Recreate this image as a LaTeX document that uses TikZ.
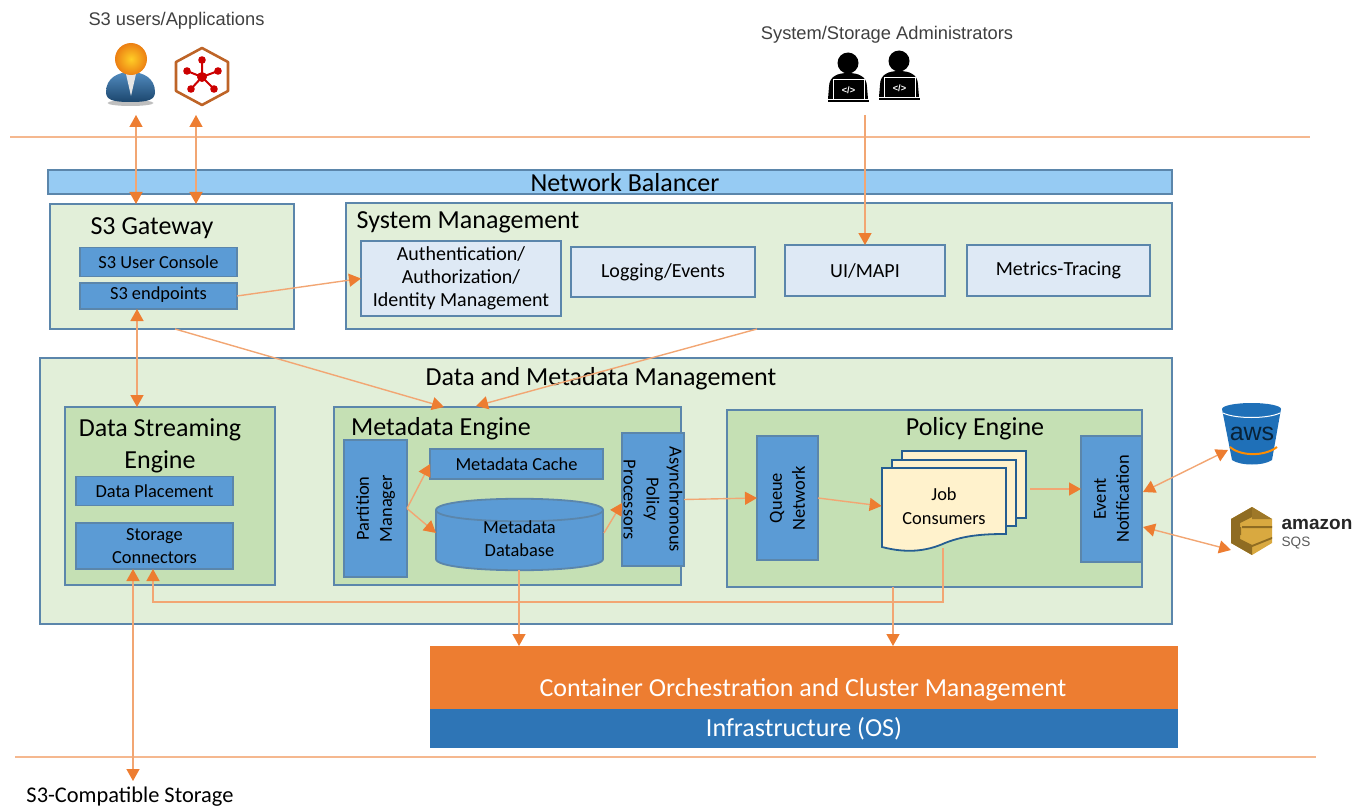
\documentclass[tikz,border=0pt]{standalone}
\usepackage{fontspec}
\setmainfont{Carlito}
\newfontfamily\labelfont{Liberation Sans}
\usetikzlibrary{arrows.meta}

\definecolor{linkorange}{HTML}{F2A673}
\definecolor{tiporange}{HTML}{ED7D31}
\definecolor{rimblue}{HTML}{5B86AB}
\definecolor{paleblue}{HTML}{DEE9F5}
\definecolor{midblue}{HTML}{5B9BD5}
\definecolor{skyblue}{HTML}{96CBF3}
\definecolor{palegreen}{HTML}{E2EFD9}
\definecolor{midgreen}{HTML}{C5E0B4}
\definecolor{paper}{HTML}{FFF2CC}
\definecolor{infrablue}{HTML}{2E75B6}
\definecolor{bucket}{HTML}{1F70B8}
\definecolor{sqsgold}{HTML}{D9A940}
\definecolor{sqsdark}{HTML}{8F6C22}

\newcommand{\titlefont}{\fontsize{13}{15.5}\selectfont}
\newcommand{\boxfont}{\fontsize{9.2}{11.5}\selectfont}
\newcommand{\panefont}{\fontsize{10}{11.5}\selectfont}

\tikzset{
  panel/.style={draw=rimblue, line width=0.9pt, fill=palegreen, inner sep=0pt, outer sep=0pt},
  engine/.style={panel, fill=midgreen},
  solidbox/.style={draw=rimblue, line width=0.9pt, fill=midblue, inner sep=0pt, outer sep=0pt, font=\boxfont, align=center},
  palebox/.style={solidbox, fill=paleblue, font=\panefont},
  drum/.style={draw=rimblue, line width=0.9pt, fill=midblue},
  sheet/.style={draw=infrablue!80!black, line width=0.9pt, fill=paper},
  heading/.style={font=\titlefont, inner sep=0pt, align=center},
  userlabel/.style={font=\labelfont\fontsize{9.15}{11}\selectfont, text=black!75, inner sep=0pt},
  link/.style={draw=linkorange, line width=0.7pt, >={Triangle[width=6.5pt,length=6pt,color=tiporange]}},
  boundary/.style={draw=linkorange!80, line width=0.6pt},
  coder/.pic={
    \fill[black] (0,0) circle (10.5);
    \fill[black] (-19,24) .. controls (-19,13) and (-10,10) .. (0,10) .. controls (10,10) and (19,13) .. (19,24) -- (20,36) -- (-20,36) -- cycle;
    \draw[white, fill=black, line width=0.5pt] (-15,17) rectangle (16,37);
    \fill[black] (-20,37) rectangle (21,39);
    \node[text=white, font=\labelfont\bfseries\fontsize{4.6}{5}\selectfont, inner sep=0pt] at (0.5,27) {</>};
  }
}

\begin{document}
\begin{tikzpicture}[x=0.5pt, y=-0.5pt]
  \useasboundingbox (0,0) rectangle (1366,808);

  \draw[boundary] (10,137) -- (1310,137);
  \draw[boundary] (15,757) -- (1316,757);

  % outer layers
  \node[panel, fill=skyblue, minimum width=562pt, minimum height=12pt] (balancer) at (610,182) {};
  \node[heading] (balancertext) at (625,183) {Network Balancer};
  \node[panel, minimum width=122pt, minimum height=62.5pt] (gateway) at (172,266.5) {};
  \node[panel, minimum width=413pt, minimum height=63pt] (sysmgmt) at (759,266) {};
  \node[panel, minimum width=566pt, minimum height=133pt] (datameta) at (606,491) {};

  \node[heading] (gatewaytitle) at (152,228) {S3 Gateway};
  \node[heading] (sysmgmttitle) at (468,222) {System Management};
  \node[heading] (datametatitle) at (601,379) {Data and Metadata Management};

  \node[solidbox, minimum width=78.5pt, minimum height=14.5pt] (console) at (158.5,262) {S3 User Console};
  \node[solidbox, minimum width=78.5pt, minimum height=13pt, text depth=2.8pt] (endpoints) at (158.5,296) {S3 endpoints};

  \node[palebox, minimum width=100pt, minimum height=37.5pt] (auth) at (461,278.5) {Authentication/\\Authorization/\\Identity Management};
  \node[palebox, minimum width=92pt, minimum height=25pt] (logging) at (663,272) {Logging/Events};
  \node[palebox, minimum width=80pt, minimum height=25.5pt] (uimapi) at (865,270.5) {UI/MAPI};
  \node[palebox, minimum width=91.5pt, minimum height=25.5pt] (metrics) at (1058.5,270.5) {Metrics-Tracing};

  % engines
  \node[engine, minimum width=105pt, minimum height=89pt] (streaming) at (170,496) {};
  \node[heading] (streamingtitle) at (160,446) {Data Streaming\\[0.5pt]Engine};
  \node[solidbox, minimum width=78.5pt, minimum height=14.5pt] (placement) at (154.5,491) {Data Placement};
  \node[solidbox, minimum width=78.5pt, minimum height=23pt] (storage) at (154.5,546) {Storage\\Connectors};

  \node[engine, minimum width=173.5pt, minimum height=89pt] (metaengine) at (507.5,496) {};
  \node[heading] (metaenginetitle) at (441,429) {Metadata Engine};
  \node[solidbox, rotate=90, minimum width=68.5pt, minimum height=31.5pt] (partition) at (375.5,508.5) {Partition\\Manager};
  \node[solidbox, minimum width=86.5pt, minimum height=15pt] (metacache) at (516.5,464) {Metadata Cache};
  \draw[drum] (436,510) -- (436,559) .. controls (436,574) and (603,574) .. (603,559) -- (603,510) .. controls (603,495) and (436,495) .. (436,510) -- cycle;
  \draw[drum, fill=none] (436,510) .. controls (436,525) and (603,525) .. (603,510);
  \node[font=\boxfont, align=center, inner sep=0pt, minimum width=83.5pt, minimum height=35.5pt] (dbase) at (519.5,538.5) {Metadata\\Database};
  \node[solidbox, rotate=-90, minimum width=66.5pt, minimum height=31pt] (async) at (653,499.5) {Asynchronous\\Policy\\Processors};

  \node[engine, minimum width=207.5pt, minimum height=88.5pt] (policy) at (934.5,498.5) {};
  \node[heading] (policytitle) at (975,429) {Policy Engine};
  \node[solidbox, rotate=90, minimum width=62pt, minimum height=30.5pt] (queue) at (787.5,498) {Queue\\Network};
  \node[sheet, minimum width=62pt, minimum height=33.5pt] (jobsback) at (964,484.5) {};
  \node[sheet, minimum width=62pt, minimum height=33pt] (jobsmid) at (954,493) {};
  \draw[sheet] (882,468) -- (1006,468) -- (1006,534) .. controls (985,534) and (965,535) .. (945,543) .. controls (925,552) and (905,553) .. (882,547) -- cycle;
  \node[font=\boxfont, align=center, inner sep=0pt, minimum width=62pt, minimum height=42pt] (jobs) at (944,506) {Job\\[0.5pt]Consumers};
  \node[solidbox, rotate=90, minimum width=63pt, minimum height=30.5pt] (event) at (1111.5,499) {Event\\Notification};

  % bottom layers
  \node[inner sep=0pt, outer sep=0pt, fill=tiporange, minimum width=374pt, minimum height=31.5pt] (container) at (804,677.5) {};
  \node[font=\titlefont, text=white, inner sep=0pt] (containertext) at (803,690) {Container Orchestration and Cluster Management};
  \node[inner sep=0pt, outer sep=0pt, fill=infrablue, minimum width=374pt, minimum height=19.5pt, text=white, font=\titlefont] (infra) at (804,728.5) {Infrastructure (OS)};

  % users and services
  \node[userlabel] (s3users) at (176.5,21) {S3 users/Applications};
  \node[userlabel] (admins) at (887,35) {System/Storage Administrators};
  \node[font=\fontsize{11.2}{13}\selectfont, inner sep=0pt] (s3store) at (130,797) {S3-Compatible Storage};

  \fill[black!25] (130.5,103) ellipse (23 and 3);
  \shade[top color=midblue!90!black, bottom color=infrablue!60!black] (106,92) .. controls (106,78) and (118,72) .. (130.5,72) .. controls (143,72) and (155,78) .. (155,92) .. controls (155,100) and (148,102) .. (130.5,102) .. controls (113,102) and (106,100) .. (106,92) -- cycle;
  \fill[white!90!black] (126,74) -- (136,74) -- (131,96) -- cycle;
  \shade[inner color=orange!45!yellow!85!white, outer color=orange!70!brown] (131,59) circle (16);

  \draw[tiporange!80!black, line width=1.3pt, line join=round] (202,48) -- (228,62) -- (228,91) -- (202,105) -- (176,91) -- (176,62) -- cycle;
  \draw[red!80!black, line width=1pt] (202,60) -- (202,77) (218,71) -- (202,77) (214,89) -- (202,77) (191,89) -- (202,77) (187,71) -- (202,77);
  \foreach \hubx/\huby in {202/60, 218/71, 214/89, 191/89, 187/71}
    \fill[red!80!black] (\hubx,\huby) circle (3.8);
  \fill[red!80!black] (202,77) circle (5);

  \pic at (848,63) {coder};
  \pic at (899,61) {coder};

  \fill[bucket] (1222,409) -- (1232,460) .. controls (1240,466) and (1264,466) .. (1272,460) -- (1281,409) -- cycle;
  \fill[bucket] (1251.5,409) ellipse (29.5 and 6);
  \draw[white, line width=0.5pt] (1223,413) .. controls (1235,419) and (1268,419) .. (1280,413);
  \node[font=\labelfont\fontsize{12.5}{14}\selectfont, text=black!70!bucket, inner sep=0pt] (awstext) at (1252,434) {aws};
  \draw[orange!90!yellow, line width=1pt] (1230,447) .. controls (1240,456) and (1264,457) .. (1277,447);

  \fill[sqsgold] (1252,507) -- (1272,519) -- (1272,543) -- (1252,555) -- (1231,543) -- (1231,519) -- cycle;
  \fill[sqsdark] (1231,519) -- (1252,507) -- (1252,517) -- (1240,523) -- (1240,539) -- (1252,545) -- (1252,555) -- (1231,543) -- cycle;
  \fill[sqsdark!80!sqsgold] (1252,507) -- (1272,519) -- (1252,519) -- cycle;
  \fill[sqsdark] (1242,526) rectangle (1272,528) (1236,527) rectangle (1241,535) (1252,545) -- (1272,537) -- (1272,539) -- (1252,547) -- cycle;
  \node[font=\labelfont\bfseries\fontsize{9.5}{12}\selectfont, text=black!85, inner sep=0pt] (sqsname) at (1317,524) {amazon};
  \node[font=\labelfont\fontsize{6.8}{9}\selectfont, text=black!65, inner sep=0pt] (sqssub) at (1296,543) {SQS};

  % connector ends away from the boxes
  \coordinate (usertip) at (136,115);
  \coordinate (apptip) at (196,115);
  \coordinate (admintail) at (865,115);
  \coordinate (sharedtail) at (175,329);
  \coordinate (sysmgmttail) at (757,329);
  \coordinate (gatewaytarget) at (444,407);
  \coordinate (sysmgmttarget) at (476,406);
  \coordinate (dbasetail) at (604,533);
  \coordinate (dbaseleft) at (436,533);
  \coordinate (dbasefoot) at (519,570);
  \coordinate (asynctarget) at (622,503);
  \coordinate (jobtail) at (1030,489);
  \coordinate (jobfoot) at (943,548);
  \coordinate (storagefeed) at (153,602);
  \coordinate (storetip) at (133,781);
  \coordinate (awsport) at (1143,492);
  \coordinate (awstip) at (1228,450);
  \coordinate (sqsport) at (1143,527);
  \coordinate (sqstip) at (1231,550);

  \draw[link,<->] (usertip) -- (usertip |- gateway.north);
  \draw[link,<->] (apptip) -- (apptip |- gateway.north);
  \draw[link,->] (admintail) -- (uimapi.north);
  \draw[link,->] (endpoints.east) -- (auth.west);
  \draw[link,<->] (endpoints.south -| 137,0) -- (streaming.north -| 137,0);
  \draw[link,->] (sharedtail) -- (gatewaytarget);
  \draw[link,->] (sysmgmttail) -- (sysmgmttarget);
  \draw[link,->] (partition.south) -- (metacache.west);
  \draw[link,->] (partition.south) -- (dbaseleft);
  \draw[link,->] (dbasetail) -- (asynctarget);
  \draw[link,->] (async.north) -- (queue.north);
  \draw[link,->] (queue.south) -- (jobs.west);
  \draw[link,->] (jobtail) -- (jobtail -| event.north);
  \draw[link,->] (jobfoot) |- (storagefeed) -- (storagefeed |- storage.south);
  \draw[link,->] (dbasefoot) -- (dbasefoot |- container.north);
  \draw[link,->] (policy.south -| 893,0) -- (container.north -| 893,0);
  \draw[link,<->] (storetip) -- (storetip |- storage.south);
  \draw[link,<->] (awsport) -- (awstip);
  \draw[link,<->] (sqsport) -- (sqstip);
\end{tikzpicture}
\end{document}
